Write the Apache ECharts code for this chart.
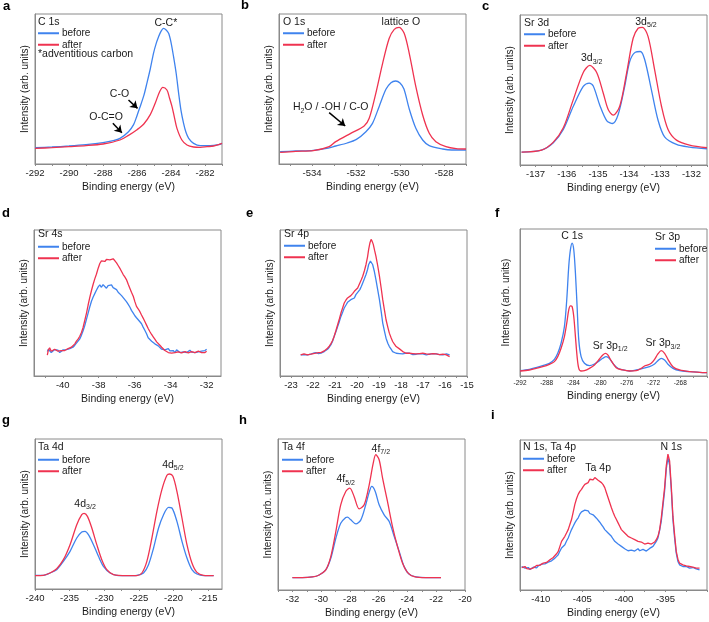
<!DOCTYPE html>
<html><head><meta charset="utf-8">
<script src="https://cdn.jsdelivr.net/npm/echarts/dist/echarts.min.js"></script>
<style>html,body{margin:0;padding:0;background:#fff}#c{width:709px;height:622px}</style>
</head><body><div id="c"></div>
<script>
const FONT = '"Liberation Sans", Arial, Helvetica, sans-serif';
const BLUE = '#3f83ee', RED = '#ef3350', FRAME = '#8a8a8a', INK = '#1a1a1a';

// ---------- tick labels ----------
const aTicks = [-292,-290,-288,-286,-284,-282];
const bTicks = [-534,-532,-530,-528];
const cTicks = [-137,-136,-135,-134,-133,-132];
const dTicks = [-40,-38,-36,-34,-32];
const eTicks = [-23,-22,-21,-20,-19,-18,-17,-16,-15];
const fTicks = [-292,-288,-284,-280,-276,-272,-268];
const gTicks = [-240,-235,-230,-225,-220,-215];
const hTicks = [-32,-30,-28,-26,-24,-22,-20];
const iTicks = [-410,-405,-400,-395];

// ---------- series values: [binding energy (eV), intensity (arb.)] ----------
const aBefore = [[-292,49],[-291,51],[-290,54],[-289,58],[-288,64],[-287.4,70],[-287,77],[-286.5,97],[-286.2,118],[-286,145],[-285.85,167],[-285.6,205],[-285.42,242],[-285.22,285],[-285.03,332],[-284.87,362],[-284.73,382],[-284.59,398],[-284.44,407],[-284.3,403],[-284.14,392],[-284,365],[-283.85,322],[-283.69,270],[-283.55,212],[-283.41,160],[-283.26,122],[-283.12,95],[-282.96,77],[-282.67,62],[-282.28,55],[-281.88,55],[-281.49,56],[-281.19,58],[-281,62]];
const aAfter = [[-292,47],[-291,49],[-290,52],[-289,55],[-288,60],[-287,72],[-286.5,86],[-286,103],[-285.6,120],[-285.22,148],[-284.93,182],[-284.67,217],[-284.48,230],[-284.24,222],[-284.1,200],[-283.94,172],[-283.8,140],[-283.65,107],[-283.36,72],[-283.06,57],[-282.67,51],[-282.28,50],[-281.88,52],[-281.49,54],[-281,62]];

const bBefore = [[-535.45,37],[-534.74,39],[-533.94,41],[-533.4,46],[-532.92,54],[-532.4,63],[-531.98,74],[-531.55,97],[-531.25,122],[-530.95,172],[-530.64,224],[-530.41,244],[-530.2,249],[-530.0,243],[-529.82,225],[-529.58,165],[-529.28,107],[-528.97,72],[-528.67,55],[-528.06,45],[-527.65,42],[-527,42]];
const bAfter = [[-535.45,35],[-534.74,38],[-533.94,40],[-533.22,52],[-532.92,67],[-532.24,92],[-531.63,114],[-531.4,137],[-531.1,212],[-530.79,302],[-530.49,377],[-530.26,404],[-530.04,410],[-529.81,392],[-529.58,332],[-529.28,232],[-528.97,147],[-528.67,92],[-528.37,67],[-527.91,52],[-527.45,46],[-527,45]];

const cBefore = [[-137.45,39],[-136.81,45],[-136.43,67],[-136.11,107],[-135.79,177],[-135.47,237],[-135.28,247],[-135.15,238],[-134.94,180],[-134.72,134],[-134.53,125],[-134.35,152],[-134.14,237],[-133.98,312],[-133.8,340],[-133.64,342],[-133.5,318],[-133.28,225],[-133.07,135],[-132.86,85],[-132.48,62],[-132.06,54],[-131.5,49]];
const cAfter = [[-137.45,39],[-136.81,45],[-136.43,69],[-136.11,112],[-135.79,197],[-135.47,279],[-135.26,300],[-135.04,279],[-134.83,217],[-134.67,167],[-134.51,150],[-134.3,177],[-134.08,277],[-133.87,382],[-133.71,412],[-133.57,415],[-133.39,387],[-133.18,287],[-132.96,177],[-132.75,107],[-132.48,75],[-132.06,60],[-131.5,52]];

const dBefore = [[-40.86,73],[-40.8,80],[-40.73,76],[-40.64,70],[-40.54,75],[-40.45,79],[-40.36,74],[-40.27,77],[-40.17,70],[-40.08,75],[-39.98,78],[-39.89,74],[-39.8,79],[-39.7,77],[-39.61,82],[-39.52,80],[-39.43,86],[-39.33,92],[-39.24,97],[-39.15,104],[-39.06,110],[-38.96,122],[-38.87,135],[-38.78,150],[-38.68,170],[-38.59,188],[-38.5,206],[-38.4,224],[-38.31,236],[-38.22,246],[-38.13,256],[-38.03,266],[-37.94,272],[-37.85,265],[-37.76,273],[-37.66,268],[-37.57,262],[-37.48,270],[-37.38,268],[-37.29,272],[-37.2,264],[-37.1,262],[-37.01,258],[-36.92,250],[-36.83,247],[-36.73,240],[-36.64,238],[-36.55,228],[-36.46,222],[-36.36,214],[-36.27,206],[-36.18,196],[-36.08,188],[-35.99,180],[-35.9,174],[-35.8,170],[-35.71,162],[-35.62,156],[-35.53,146],[-35.43,136],[-35.34,126],[-35.25,114],[-35.16,110],[-35.06,104],[-34.97,102],[-34.88,96],[-34.78,92],[-34.69,90],[-34.6,86],[-34.5,80],[-34.41,84],[-34.32,78],[-34.23,76],[-34.13,82],[-34.04,75],[-33.95,72],[-33.86,76],[-33.76,70],[-33.67,78],[-33.58,82],[-33.48,70],[-33.39,74],[-33.3,72],[-33.2,76],[-33.11,70],[-33.02,74],[-32.93,77],[-32.83,71],[-32.74,73],[-32.65,70],[-32.56,75],[-32.46,72],[-32.37,70],[-32.28,74],[-32.18,73],[-32.09,76],[-32,80]];
const dAfter = [[-40.86,62],[-40.8,78],[-40.73,84],[-40.64,74],[-40.54,72],[-40.45,80],[-40.36,77],[-40.27,74],[-40.17,78],[-40.08,76],[-39.98,81],[-39.89,76],[-39.8,79],[-39.7,82],[-39.61,84],[-39.52,86],[-39.43,89],[-39.33,96],[-39.24,104],[-39.15,110],[-39.06,118],[-38.96,130],[-38.87,145],[-38.78,165],[-38.68,188],[-38.59,212],[-38.5,234],[-38.4,256],[-38.31,274],[-38.22,290],[-38.13,304],[-38.03,322],[-37.94,336],[-37.85,344],[-37.76,346],[-37.66,342],[-37.57,348],[-37.48,345],[-37.38,347],[-37.29,342],[-37.2,350],[-37.1,344],[-37.01,338],[-36.92,330],[-36.83,322],[-36.73,312],[-36.64,303],[-36.55,296],[-36.46,288],[-36.36,274],[-36.27,262],[-36.18,250],[-36.08,238],[-35.99,222],[-35.9,208],[-35.8,200],[-35.71,192],[-35.62,182],[-35.53,173],[-35.43,162],[-35.34,152],[-35.25,142],[-35.16,133],[-35.06,124],[-34.97,117],[-34.88,110],[-34.78,102],[-34.69,97],[-34.6,92],[-34.5,86],[-34.41,82],[-34.32,76],[-34.23,73],[-34.13,70],[-34.04,71],[-33.95,68],[-33.86,73],[-33.76,70],[-33.67,67],[-33.58,72],[-33.48,74],[-33.39,69],[-33.3,70],[-33.2,73],[-33.11,72],[-33.02,69],[-32.93,71],[-32.83,73],[-32.74,72],[-32.65,70],[-32.56,71],[-32.46,74],[-32.37,75],[-32.28,70],[-32.18,72],[-32.09,70],[-32,74]];

const eBefore = [[-22.56,63],[-22.48,66],[-22.41,64],[-22.33,61],[-22.25,63],[-22.17,67],[-22.1,65],[-21.98,68],[-21.87,70],[-21.75,67],[-21.64,68],[-21.56,71],[-21.49,73],[-21.41,76],[-21.34,80],[-21.26,86],[-21.19,93],[-21.11,104],[-21.04,118],[-20.96,132],[-20.88,148],[-20.8,163],[-20.73,178],[-20.65,191],[-20.58,203],[-20.5,212],[-20.43,220],[-20.35,225],[-20.28,228],[-20.2,231],[-20.12,233],[-20.05,243],[-19.97,238],[-19.87,258],[-19.8,268],[-19.74,278],[-19.66,291],[-19.59,303],[-19.52,318],[-19.47,333],[-19.39,343],[-19.33,340],[-19.29,333],[-19.21,312],[-19.14,288],[-19.06,258],[-18.98,228],[-18.9,192],[-18.83,158],[-18.75,133],[-18.68,113],[-18.6,98],[-18.53,88],[-18.45,80],[-18.38,73],[-18.3,70],[-18.22,68],[-18.07,67],[-17.92,66],[-17.77,68],[-17.61,68],[-17.46,64],[-17.31,65],[-17.16,67],[-17.01,66],[-16.85,63],[-16.7,65],[-16.55,67],[-16.4,66],[-16.25,64],[-16.09,63],[-15.94,66],[-15.79,63]];
const eAfter = [[-22.56,63],[-22.48,65],[-22.41,66],[-22.33,64],[-22.25,63],[-22.17,66],[-22.1,65],[-21.98,67],[-21.87,68],[-21.75,70],[-21.64,70],[-21.56,72],[-21.49,75],[-21.41,79],[-21.34,83],[-21.26,89],[-21.19,96],[-21.11,106],[-21.04,118],[-20.96,135],[-20.88,153],[-20.8,171],[-20.73,188],[-20.65,204],[-20.58,218],[-20.5,227],[-20.43,233],[-20.35,237],[-20.28,240],[-20.2,246],[-20.12,253],[-20.05,258],[-19.97,263],[-19.87,278],[-19.8,288],[-19.74,298],[-19.66,315],[-19.59,333],[-19.52,356],[-19.47,378],[-19.41,398],[-19.36,408],[-19.31,402],[-19.26,393],[-19.2,375],[-19.14,358],[-19.06,330],[-18.98,298],[-18.9,262],[-18.83,228],[-18.75,196],[-18.68,168],[-18.6,146],[-18.53,128],[-18.45,114],[-18.38,103],[-18.3,95],[-18.22,88],[-18.15,84],[-18.07,81],[-17.99,76],[-17.92,73],[-17.77,68],[-17.61,68],[-17.46,67],[-17.31,66],[-17.16,67],[-17.01,68],[-16.85,66],[-16.7,65],[-16.55,67],[-16.4,66],[-16.25,64],[-16.09,65],[-15.94,63],[-15.79,58]];

const fBefore = [[-292,16],[-290.6,20],[-289.6,25],[-288.6,31],[-287.6,38],[-286.85,50],[-286.35,68],[-285.85,98],[-285.35,148],[-285,228],[-284.7,328],[-284.45,378],[-284.2,398],[-283.95,378],[-283.7,308],[-283.45,208],[-283.2,108],[-282.85,58],[-282.35,38],[-281.6,31],[-280.85,36],[-280.1,46],[-279.6,53],[-279.1,58],[-278.6,52],[-278.1,38],[-277.35,23],[-276.6,18],[-275.6,15],[-274.6,18],[-273.6,23],[-272.6,28],[-271.85,36],[-271.35,46],[-270.85,53],[-270.35,48],[-269.85,35],[-269.1,23],[-268.1,16],[-266.6,13],[-265.1,11],[-264,10]];
const fAfter = [[-292,15],[-290.6,18],[-289.6,23],[-288.6,28],[-287.6,35],[-286.85,43],[-286.35,58],[-285.85,83],[-285.35,118],[-285,158],[-284.7,198],[-284.45,210],[-284.2,208],[-283.95,178],[-283.7,118],[-283.45,58],[-283.2,23],[-282.85,15],[-282.35,16],[-281.6,23],[-280.85,33],[-280.1,51],[-279.6,63],[-279.2,68],[-278.85,63],[-278.35,46],[-277.6,25],[-276.6,18],[-275.6,15],[-274.6,16],[-273.85,23],[-273.35,30],[-272.85,33],[-272.35,38],[-271.85,50],[-271.35,66],[-270.85,76],[-270.35,68],[-269.85,50],[-269.1,28],[-268.1,18],[-266.6,13],[-265.1,11],[-264,10]];

const gBefore = [[-240,41],[-238.79,41],[-237.83,48],[-236.87,58],[-235.9,83],[-234.94,113],[-233.97,153],[-233.25,171],[-232.77,173],[-232.29,163],[-231.56,133],[-230.84,98],[-230.12,68],[-229.15,48],[-228.19,41],[-226.74,40],[-225.29,41],[-224.33,48],[-223.61,73],[-222.88,123],[-222.16,183],[-221.44,223],[-220.71,245],[-220.23,243],[-219.51,203],[-218.78,143],[-218.06,93],[-217.34,58],[-216.62,45],[-215.65,40],[-214.2,40]];
const gAfter = [[-240,40],[-238.79,41],[-237.83,48],[-236.87,61],[-235.9,88],[-234.94,133],[-233.97,193],[-233.25,223],[-232.91,227],[-232.43,218],[-231.8,183],[-231.08,133],[-230.36,88],[-229.63,58],[-228.67,43],[-226.74,40],[-225.29,40],[-224.57,48],[-223.85,83],[-223.12,153],[-222.4,233],[-221.68,298],[-220.95,341],[-220.57,345],[-220.09,338],[-219.51,293],[-218.78,213],[-218.06,133],[-217.34,78],[-216.62,50],[-215.65,41],[-214.2,40]];

const hBefore = [[-32,37],[-31.31,37],[-30.61,39],[-30.14,45],[-29.68,60],[-29.33,95],[-28.98,155],[-28.64,200],[-28.29,217],[-28.17,218],[-27.94,210],[-27.59,198],[-27.24,210],[-26.9,255],[-26.66,293],[-26.48,310],[-26.24,295],[-25.97,255],[-25.62,225],[-25.27,205],[-24.92,160],[-24.57,115],[-24.23,70],[-23.88,47],[-23.41,39],[-22.72,37],[-21.67,37]];
const hAfter = [[-32,37],[-31.31,37],[-30.61,39],[-30.14,45],[-29.68,60],[-29.33,100],[-28.98,175],[-28.64,255],[-28.29,295],[-28.01,305],[-27.71,280],[-27.36,243],[-27.01,255],[-26.66,315],[-26.38,380],[-26.2,405],[-25.97,390],[-25.73,335],[-25.39,265],[-25.04,190],[-24.69,130],[-24.34,80],[-23.99,52],[-23.53,40],[-22.72,37],[-21.67,37]];

const iBefore = [[-412.3,70],[-412.1,66],[-411.9,65],[-411.7,69],[-411.5,67],[-411.3,61],[-411.1,63],[-410.9,68],[-410.7,70],[-410.5,66],[-410.3,72],[-410.1,75],[-409.9,77],[-409.7,74],[-409.5,78],[-409.3,82],[-409.1,83],[-408.9,86],[-408.7,87],[-408.5,92],[-408.3,95],[-408.1,100],[-407.9,105],[-407.7,116],[-407.5,125],[-407.3,128],[-407.1,135],[-406.9,146],[-406.7,155],[-406.5,168],[-406.3,180],[-406.1,190],[-405.9,200],[-405.7,208],[-405.5,215],[-405.3,226],[-405.1,233],[-404.9,236],[-404.7,238],[-404.5,234],[-404.3,236],[-404.1,228],[-403.9,226],[-403.7,224],[-403.5,219],[-403.3,214],[-403.1,210],[-402.9,202],[-402.7,195],[-402.5,188],[-402.3,180],[-402.1,176],[-401.9,170],[-401.7,166],[-401.5,160],[-401.3,152],[-401.1,145],[-400.9,142],[-400.7,137],[-400.5,134],[-400.3,130],[-400.1,126],[-399.9,123],[-399.7,118],[-399.5,117],[-399.3,122],[-399.1,119],[-398.9,114],[-398.7,116],[-398.5,121],[-398.3,123],[-398.1,117],[-397.9,115],[-397.7,121],[-397.5,120],[-397.3,116],[-397.1,118],[-396.9,124],[-396.7,125],[-396.5,130],[-396.3,135],[-396.1,145],[-395.9,155],[-395.7,178],[-395.5,205],[-395.3,250],[-395.1,295],[-394.9,360],[-394.7,395],[-394.5,372],[-394.3,300],[-394.1,210],[-393.9,155],[-393.7,110],[-393.5,85],[-393.3,75],[-393.1,72],[-392.9,70],[-392.7,71],[-392.5,70],[-392.3,66],[-392.1,65],[-391.9,68],[-391.7,67],[-391.5,63],[-391.3,63],[-391.1,61],[-390.9,60]];
const iAfter = [[-412.3,67],[-412.1,71],[-411.9,70],[-411.7,64],[-411.5,65],[-411.3,62],[-411.1,58],[-410.9,66],[-410.7,70],[-410.5,73],[-410.3,75],[-410.1,74],[-409.9,77],[-409.7,80],[-409.5,83],[-409.3,82],[-409.1,85],[-408.9,90],[-408.7,93],[-408.5,97],[-408.3,100],[-408.1,108],[-407.9,115],[-407.7,130],[-407.5,145],[-407.3,150],[-407.1,160],[-406.9,170],[-406.7,180],[-406.5,195],[-406.3,210],[-406.1,232],[-405.9,255],[-405.7,272],[-405.5,285],[-405.3,294],[-405.1,300],[-404.9,308],[-404.7,315],[-404.5,318],[-404.3,320],[-404.1,330],[-403.9,333],[-403.7,328],[-403.5,335],[-403.3,330],[-403.1,327],[-402.9,324],[-402.7,320],[-402.5,314],[-402.3,305],[-402.1,290],[-401.9,275],[-401.7,260],[-401.5,245],[-401.3,232],[-401.1,220],[-400.9,210],[-400.7,200],[-400.5,190],[-400.3,180],[-400.1,175],[-399.9,170],[-399.7,165],[-399.5,160],[-399.3,158],[-399.1,155],[-398.9,152],[-398.7,150],[-398.5,147],[-398.3,145],[-398.1,143],[-397.9,143],[-397.7,140],[-397.5,137],[-397.3,141],[-397.1,140],[-396.9,136],[-396.7,137],[-396.5,140],[-396.3,143],[-396.1,150],[-395.9,160],[-395.7,180],[-395.5,215],[-395.3,260],[-395.1,305],[-394.9,370],[-394.7,405],[-394.5,385],[-394.3,310],[-394.1,220],[-393.9,165],[-393.7,115],[-393.5,92],[-393.3,80],[-393.1,78],[-392.9,75],[-392.7,74],[-392.5,72],[-392.3,71],[-392.1,70],[-391.9,69],[-391.7,68],[-391.5,67],[-391.3,65],[-391.1,65],[-390.9,65]];

// ---------- panel layout ----------
const panels = [
  {L:'a', grid:[35,14,187,150], x:[-292,-281], ymax:450, ticks:aTicks, step:2, before:aBefore, after:aAfter, smooth:0.3,
   letter:[3,0], title:'C 1s', titleAt:[38,17], legendAt:[38,27.5], extra:{t:'*adventitious carbon', at:[38,48.5]},
   notes:[{t:'C-C*', at:[-284.3,424]},{t:'C-O', at:[-287.03,209]},{t:'O-C=O', at:[-287.82,140]}],
   arrows:[[[-286.5,192],[-285.97,167]],[[-287.42,122],[-286.89,94]]]},
  {L:'b', grid:[279,14,187,150], x:[-535.5,-527], ymax:450, ticks:bTicks, step:2, before:bBefore, after:bAfter, smooth:0.3,
   letter:[241,-1], title:'O 1s', titleAt:[283,17], legendAt:[283,27.5],
   notes:[{t:'lattice O', at:[-529.96,426]},{t:'H{s|2}O / -OH / C-O', at:[-533.15,170]}],
   arrows:[[[-533.22,154],[-532.49,114]]]},
  {L:'c', grid:[520,15,187,150], x:[-137.5,-131.5], ymax:452, ticks:cTicks, step:1, before:cBefore, after:cAfter, smooth:0.3,
   letter:[482,0], title:'Sr 3d', titleAt:[524,18], legendAt:[524,28.5],
   notes:[{t:'3d{s|3/2}', at:[-135.2,321]},{t:'3d{s|5/2}', at:[-133.46,431]}], arrows:[]},
  {L:'d', grid:[34,230,187,146], x:[-41.6,-31.2], ymax:436, ticks:dTicks, step:2, before:dBefore, after:dAfter, smooth:false,
   letter:[2,207], title:'Sr 4s', titleAt:[38,229], legendAt:[38,241], notes:[], arrows:[]},
  {L:'e', grid:[280,230,187,146], x:[-23.5,-15], ymax:436, ticks:eTicks, step:1, before:eBefore, after:eAfter, smooth:false,
   letter:[246,207], title:'Sr 4p', titleAt:[284,228.5], legendAt:[284,240], notes:[], arrows:[]},
  {L:'f', grid:[520,229,187,147], x:[-292,-264], ymax:440, ticks:fTicks, step:4, before:fBefore, after:fAfter, smooth:0.3,
   letter:[495,207], title:'Sr 3p', titleAt:[655,232], legendAt:[655,243], small:true,
   notes:[{t:'C 1s', at:[-284.2,418]},{t:'Sr 3p{s|1/2}', at:[-278.5,90]},{t:'Sr 3p{s|3/2}', at:[-270.6,98]}], arrows:[]},
  {L:'g', grid:[35,439,187,150], x:[-240,-213], ymax:450, ticks:gTicks, step:5, before:gBefore, after:gAfter, smooth:0.3,
   letter:[2,414], title:'Ta 4d', titleAt:[38,442], legendAt:[38,454],
   notes:[{t:'4d{s|3/2}', at:[-232.77,255]},{t:'4d{s|5/2}', at:[-220.09,373]}], arrows:[]},
  {L:'h', grid:[278,439,187,151], x:[-33,-20], ymax:452, ticks:hTicks, step:2, before:hBefore, after:hAfter, smooth:0.3,
   letter:[239,414], title:'Ta 4f', titleAt:[282,442], legendAt:[282,454],
   notes:[{t:'4f{s|5/2}', at:[-28.29,332]},{t:'4f{s|7/2}', at:[-25.85,422]}], arrows:[]},
  {L:'i', grid:[520,440,187,150], x:[-412.5,-390], ymax:447, ticks:iTicks, step:5, before:iBefore, after:iAfter, smooth:false,
   letter:[491,409], title:'N 1s, Ta 4p', titleAt:[523,442], legendAt:[523,453],
   notes:[{t:'Ta 4p', at:[-403.1,362]},{t:'N 1s', at:[-394.3,427]}], arrows:[]}
];

function tickVals(p){
  const h = p.step/2, out = [];
  let s = p.ticks[0];
  while (s - h >= p.x[0] - 1e-9) s -= h;
  for (let v = s; v <= p.x[1] + 1e-9; v += h) out.push(+v.toFixed(4));
  return out;
}

const grid=[], xAxis=[], yAxis=[], series=[], legend=[], title=[];
const textBase = {fontFamily: FONT, color: INK};
panels.forEach((p, i) => {
  grid.push({left:p.grid[0], top:p.grid[1], width:p.grid[2], height:p.grid[3], show:true, borderColor:FRAME, borderWidth:1, backgroundColor:'transparent'});
  xAxis.push({type:'value', gridIndex:i, min:p.x[0], max:p.x[1],
    name:'Binding energy (eV)', nameLocation:'middle', nameGap: p.small ? 15 : 18,
    nameTextStyle:{...textBase, fontSize:10.5},
    axisLine:{lineStyle:{color:FRAME, width:1}},
    axisTick:{show:true, length:2, customValues:tickVals(p), lineStyle:{color:FRAME}},
    axisLabel:{customValues:p.ticks, margin:4, ...textBase, fontSize: p.small ? 6.5 : 9.5},
    splitLine:{show:false}});
  yAxis.push({type:'value', gridIndex:i, min:0, max:p.ymax,
    name:'Intensity (arb. units)', nameLocation:'middle', nameGap: p.small ? 9 : 5,
    nameTextStyle:{...textBase, fontSize:10},
    axisLine:{show:true, lineStyle:{color:FRAME}}, axisTick:{show:false}, axisLabel:{show:false}, splitLine:{show:false}});
  const common = {type:'line', xAxisIndex:i, yAxisIndex:i, showSymbol:false, symbol:'none', smooth:p.smooth, silent:true};
  series.push({...common, name:'before', data:p.before, color:BLUE, lineStyle:{width:1.3, color:BLUE}, z:2});
  const after = {...common, name:'after', data:p.after, color:RED, lineStyle:{width:1.3, color:RED}, z:3};
  if (p.notes.length) after.markPoint = {
    symbol:'rect', symbolSize:1, silent:true, itemStyle:{color:'rgba(0,0,0,0)'},
    label:{show:true, position:'inside', ...textBase, fontSize:10.5, lineHeight:14,
      rich:{s:{fontFamily:FONT, color:INK, fontSize:7, lineHeight:7, verticalAlign:'bottom'}}},
    data: p.notes.map(n => ({coord:n.at, value:0, label:{formatter:n.t}}))
  };
  if (p.arrows.length) after.markLine = {
    silent:true, symbol:['none','arrow'], symbolSize:7,
    lineStyle:{color:'#000', width:1.5, type:'solid'}, label:{show:false},
    data: p.arrows.map(a => [{coord:a[0]},{coord:a[1]}])
  };
  series.push(after);
  legend.push({data:['before','after'], left:p.legendAt[0], top:p.legendAt[1], orient:'vertical', icon:'rect',
    itemWidth:21, itemHeight:2, itemGap:0, padding:0, selectedMode:false,
    textStyle:{...textBase, fontSize:10, lineHeight:11.5, padding:[0,0,0,-2]}});
  title.push({text:p.L, left:p.letter[0], top:p.letter[1], padding:0, textStyle:{fontFamily:FONT, color:'#000', fontSize:13, fontWeight:'bold'}});
  title.push({text:p.title, left:p.titleAt[0], top:p.titleAt[1], padding:0, textStyle:{...textBase, fontSize:10.5, fontWeight:'normal'}});
  if (p.extra) title.push({text:p.extra.t, left:p.extra.at[0], top:p.extra.at[1], padding:0, textStyle:{...textBase, fontSize:10.5, fontWeight:'normal'}});
});

const chart = echarts.init(document.getElementById('c'), null, {renderer:'canvas'});
chart.setOption({animation:false, backgroundColor:'#fff', grid, xAxis, yAxis, series, legend, title});
</script></body></html>
